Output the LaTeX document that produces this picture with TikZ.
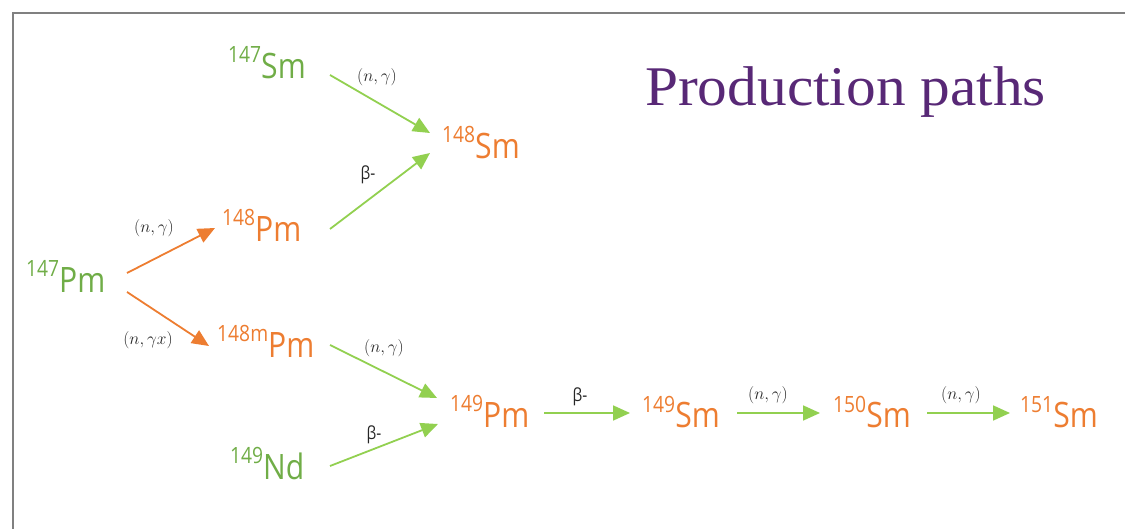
\documentclass[tikz,border=0pt]{standalone}
\usepackage{fontspec}
\usetikzlibrary{arrows.meta,calc}
\newfontfamily\isofont[FakeStretch=0.86]{Open Sans}
\newfontfamily\titlefont[FakeStretch=1.06]{Liberation Serif}
\definecolor{isogreen}{HTML}{70AD47}
\definecolor{isoorange}{HTML}{ED7D31}
\definecolor{arrgreen}{HTML}{92D050}
\definecolor{framegray}{HTML}{808080}
\definecolor{titlepurple}{RGB}{88,40,118}
\newcommand\iso[2]{\raisebox{16pt}{\fontsize{22.4}{24}\selectfont #1}#2}
\tikzset{
  isonode/.style={inner sep=0pt, anchor=base west, font=\isofont\fontsize{35}{40}\selectfont},
  gnode/.style={isonode, text=isogreen},
  onode/.style={isonode, text=isoorange},
  lbl/.style={inner sep=0pt, text=black!85, font=\fontsize{18}{20}\selectfont},
  blbl/.style={inner sep=0pt, text=black!85, font=\isofont\fontsize{18}{20}\selectfont},
  garrow/.style={draw=arrgreen, line width=1.8pt, -{Triangle[length=17pt,width=15pt]}, fill=arrgreen},
  oarrow/.style={draw=isoorange, line width=1.8pt, -{Triangle[length=17pt,width=15pt]}, fill=isoorange},
}
\begin{document}
\begin{tikzpicture}[x=1pt,y=-1pt]
\useasboundingbox (0,0) rectangle (1125,529);
\draw[framegray, line width=2pt] (13,529) -- (13,13) -- (1125,13);

\node[anchor=base west, inner sep=0pt, text=titlepurple, font=\titlefont\fontsize{56}{60}\selectfont] (title) at (645,106) {Production paths};

\node[gnode] (sm147) at (228,79) {\iso{147}{Sm}};
\node[onode] (sm148) at (442,159) {\iso{148}{Sm}};
\node[onode] (pm148) at (222,242) {\iso{148}{Pm}};
\node[gnode] (pm147) at (26,293) {\iso{147}{Pm}};
\node[onode] (pm148m) at (217,358) {\iso{148m}{Pm}};
\node[onode] (pm149) at (450,427) {\iso{149}{Pm}};
\node[gnode] (nd149) at (230,479) {\iso{149}{Nd}};
\node[onode] (sm149) at (642,428) {\iso{149}{Sm}};
\node[onode] (sm150) at (833,428) {\iso{150}{Sm}};
\node[onode] (sm151) at (1020,428) {\iso{151}{Sm}};

\draw[garrow] ($(sm147.base west)+(102,-4)$) -- ($(sm148.base west)+(-12,-26)$);
\draw[garrow] ($(pm148.base west)+(108,-13)$) -- ($(sm148.base west)+(-12,-6)$);
\draw[oarrow] ($(pm147.base west)+(101,-20)$) -- ($(pm148.base west)+(-7,-14)$);
\draw[oarrow] ($(pm147.base west)+(101,-1)$) -- ($(pm148m.base west)+(-8,-12)$);
\draw[garrow] ($(pm148m.base west)+(113,-13)$) -- ($(pm149.base west)+(-13,-29)$);
\draw[garrow] ($(nd149.base west)+(100,-13)$) -- ($(pm149.base west)+(-12,-3)$);
\draw[garrow] ($(pm149.base west)+(94,-14)$) -- ($(sm149.base west)+(-12,-15)$);
\draw[garrow] ($(sm149.base west)+(95,-15)$) -- ($(sm150.base west)+(-13,-15)$);
\draw[garrow] ($(sm150.base west)+(94,-15)$) -- ($(sm151.base west)+(-10,-15)$);

\node[lbl] (l1) at (377,77) {$(n,\gamma)$};
\node[blbl] (l2) at (368,175) {β-};
\node[lbl] (l3) at (154,228) {$(n,\gamma)$};
\node[lbl] (l4) at (148,340) {$(n,\gamma x)$};
\node[lbl] (l5) at (384,348) {$(n,\gamma)$};
\node[blbl] (l6) at (374,435) {β-};
\node[blbl] (l7) at (580,397) {β-};
\node[lbl] (l8) at (768,395) {$(n,\gamma)$};
\node[lbl] (l9) at (961,395) {$(n,\gamma)$};
\end{tikzpicture}
\end{document}
